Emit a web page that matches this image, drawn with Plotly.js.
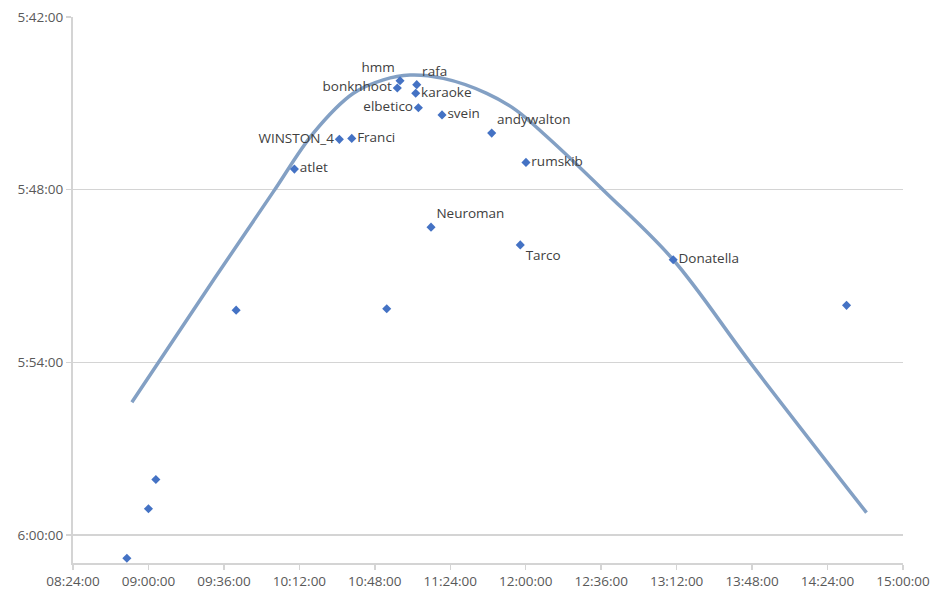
<!DOCTYPE html>
<html>
<head>
<meta charset="utf-8">
<script src="https://cdn.plot.ly/plotly-3.0.1.min.js"></script>
<style>
  html, body { margin: 0; padding: 0; background: #ffffff; }
  #chart { width: 935px; height: 594px; }
</style>
</head>
<body>
<div id="chart"></div>
<script>
// ---- data ----
const names = ["", "", "", "", "atlet", "WINSTON_4", "Franci", "", "bonknhoot", "hmm",
               "rafa", "karaoke", "elbetico", "svein", "Neuroman", "andywalton", "rumskib",
               "Tarco", "Donatella", ""];
const startTimes = ["08:49:42", "09:00:00", "09:03:32", "09:41:50", "10:09:38", "10:31:05",
                    "10:37:00", "10:53:41", "10:58:44", "11:00:02", "11:08:00", "11:07:31",
                    "11:08:47", "11:20:04", "11:14:49", "11:43:46", "12:00:07", "11:57:24",
                    "13:10:22", "14:33:04"];
const raceTimes = ["6:00:48", "5:59:05", "5:58:04", "5:52:11", "5:47:17", "5:46:15",
                   "5:46:13", "5:52:08", "5:44:28", "5:44:13", "5:44:21", "5:44:39",
                   "5:45:09", "5:45:24", "5:49:18", "5:46:02", "5:47:03", "5:49:55",
                   "5:50:26", "5:52:01"];
// trendline
const trendX = ["08:52:05", "09:31:49", "09:59:37", "10:18:41", "10:37:46",
                "10:52:04", "11:04:48", "11:20:41", "11:41:23", "11:55:21", "12:10:00",
                "12:37:47", "13:10:22", "13:47:45", "14:42:35"];
const trendY = ["5:55:23", "5:51:03", "5:48:04", "5:46:02", "5:44:39",
                "5:44:11", "5:44:01", "5:44:08", "5:44:39", "5:45:14", "5:46:09",
                "5:48:04", "5:50:26", "5:54:04", "5:59:13"];
const xTickStart = "08:24:00";
const xRange = ["08:24:00", "15:00:00"];
const yRange = ["6:00:58", "5:42:00"];
const yTickStart = "5:42:00";

// ---- helpers ----
function toDate(t) {
  const p = t.split(":");
  const h = p[0].padStart(2, "0");
  return "1970-01-01 " + h + ":" + p[1] + ":" + p[2];
}

const labelPos = {
  "hmm": "top left", "bonknhoot": "middle left", "WINSTON_4": "middle left",
  "elbetico": "middle left", "Neuroman": "top right", "andywalton": "top right",
  "Tarco": "bottom right", "rafa": "top right"
};
const textpos = names.map(n => labelPos[n] || "middle right");

const trendTrace = {
  x: trendX.map(toDate), y: trendY.map(toDate),
  mode: "lines", type: "scatter",
  line: { color: "#83a0c4", width: 3.5, shape: "spline", smoothing: 1.0 },
  hoverinfo: "skip", showlegend: false
};

const pointsTrace = {
  x: startTimes.map(toDate), y: raceTimes.map(toDate),
  text: names,
  mode: "markers+text", type: "scatter",
  textposition: textpos,
  textfont: { family: "Open Sans, sans-serif", size: 13.5, color: "#404040" },
  marker: { symbol: "diamond", size: 7, color: "#4472c4" },
  showlegend: false
};

const gridColor = "#d4d4d4";
const tickFont = { family: "Open Sans, sans-serif", size: 13.5, color: "#595959" };

const layout = {
  width: 935, height: 594,
  margin: { l: 73, r: 32, t: 17, b: 31 },
  paper_bgcolor: "#ffffff", plot_bgcolor: "#ffffff",
  showlegend: false,
  xaxis: {
    type: "date",
    range: xRange.map(toDate),
    tick0: toDate(xTickStart), dtick: 36 * 60 * 1000,
    tickformat: "%H:%M:%S",
    showgrid: false, zeroline: false,
    showline: true, linecolor: gridColor, linewidth: 2,
    ticks: "outside", ticklen: 5, tickcolor: gridColor, tickwidth: 1.5,
    tickfont: tickFont
  },
  yaxis: {
    type: "date",
    range: yRange.map(toDate),
    tick0: toDate(yTickStart), dtick: 6 * 60 * 1000,
    tickformat: "%-H:%M:%S",
    showgrid: true, gridcolor: gridColor, gridwidth: 1.5,
    zeroline: false,
    showline: true, linecolor: gridColor, linewidth: 2,
    ticks: "outside", ticklen: 5, tickcolor: gridColor, tickwidth: 1.5,
    tickfont: tickFont
  }
};

Plotly.newPlot("chart", [trendTrace, pointsTrace], layout, { displayModeBar: false, staticPlot: true });
</script>
</body>
</html>
